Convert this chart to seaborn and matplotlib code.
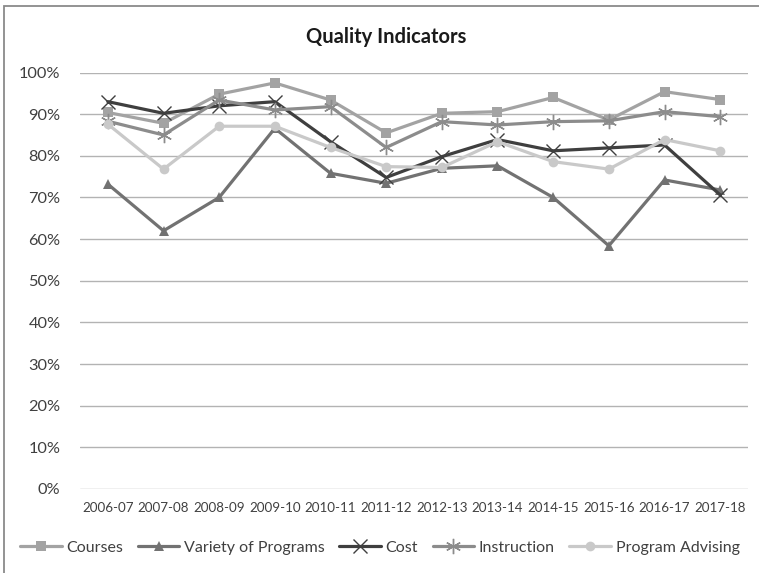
import matplotlib
matplotlib.use("Agg")
import matplotlib.pyplot as plt
import matplotlib.patches as mpatches
from matplotlib.ticker import PercentFormatter
import seaborn as sns
import pandas as pd

years = ["2006-07", "2007-08", "2008-09", "2009-10", "2010-11", "2011-12",
         "2012-13", "2013-14", "2014-15", "2015-16", "2016-17", "2017-18"]

courses = [90.4, 87.8, 94.8, 97.5, 93.4, 85.5, 90.2, 90.6, 94.0, 88.6, 95.4, 93.5]
variety = [73.2, 62.0, 70.0, 86.6, 75.8, 73.4, 77.0, 77.6, 70.0, 58.4, 74.2, 71.8]
cost = [93.0, 90.2, 92.0, 93.0, 83.4, 74.8, 79.8, 83.9, 81.2, 81.9, 82.6, 70.6]
instruction = [88.3, 85.0, 93.4, 91.0, 91.8, 82.0, 88.2, 87.4, 88.2, 88.4, 90.6, 89.4]
advising = [87.6, 76.8, 87.1, 87.1, 82.0, 77.4, 77.2, 83.4, 78.6, 76.8, 83.9, 81.2]

series = {
    "Courses": courses,
    "Variety of Programs": variety,
    "Cost": cost,
    "Instruction": instruction,
    "Program Advising": advising,
}
styles = {
    "Courses": dict(color="#a3a3a3", marker="s", size=7),
    "Variety of Programs": dict(color="#727272", marker="^", size=7.5),
    "Cost": dict(color="#3f3f3f", marker="x", size=10),
    "Instruction": dict(color="#8c8c8c", marker=(6, 2, 0), size=11),
    "Program Advising": dict(color="#c9c9c9", marker="o", size=7),
}

sns.set_theme(style="white")
plt.rcParams["font.family"] = ["Lato", "DejaVu Sans"]

fig = plt.figure(figsize=(7.59, 5.73), dpi=100)
ax = fig.add_axes([80 / 759, 1 - 489 / 573, 668 / 759, (489 - 72.5) / 573])

xpos = list(range(len(years)))
for name, vals in series.items():
    df = pd.DataFrame({"x": xpos, "y": [v / 100 for v in vals]})
    st = styles[name]
    unfilled = st["marker"] in ("x", (6, 2, 0))
    sns.lineplot(data=df, x="x", y="y", ax=ax, color=st["color"], linewidth=2.3,
                 marker=st["marker"], markersize=st["size"],
                 markeredgewidth=1.0 if unfilled else 0,
                 markeredgecolor=st["color"], markerfacecolor=st["color"],
                 label=name, sort=False)

ax.set_xlim(-0.5, len(years) - 0.5)
ax.set_ylim(0, 1.0)
ax.set_yticks([i / 10 for i in range(11)])
ax.yaxis.set_major_formatter(PercentFormatter(1.0, decimals=0))
ax.set_xticks(xpos)
ax.set_xticklabels(years, fontsize=9.6, color="#404040")
ax.tick_params(axis="y", labelsize=11.8, labelcolor="#404040", length=0, pad=14)
ax.tick_params(axis="x", length=0, pad=9)
ax.set_xlabel("")
ax.set_ylabel("")
ax.grid(axis="y", color="#b3b3b3", linewidth=1.0)
ax.grid(axis="x", visible=False)
ax.set_axisbelow(True)
for s in ax.spines.values():
    s.set_visible(False)

fig.text(386 / 759, 1 - 37 / 573, "Quality Indicators", ha="center", va="center",
         fontsize=14.5, fontweight="bold", color="#1a1a1a")

leg = ax.legend(loc="center", bbox_to_anchor=(380 / 759, 1 - 548 / 573),
                bbox_transform=fig.transFigure, ncol=5, frameon=False,
                fontsize=11.5, handlelength=2.6, handletextpad=0.3,
                columnspacing=0.9, labelcolor="#404040")

# chart-area border (left and top edges fall inside the canvas)
fig.patches.append(mpatches.Rectangle((4 / 759, -0.05), 1.2, 1 - 6 / 573 + 0.05,
                                      transform=fig.transFigure, fill=False,
                                      edgecolor="#8a8a8a", linewidth=1.3))

fig.savefig("out.png", dpi=100)
